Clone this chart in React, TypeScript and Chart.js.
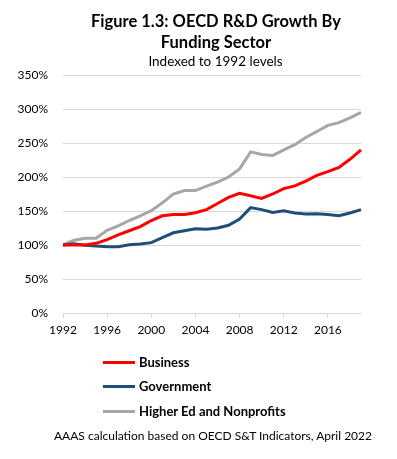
import React, { useEffect, useRef } from "react";
import { Chart, registerables } from "chart.js";

Chart.register(...registerables);

const years = [
  "1992", "1993", "1994", "1995", "1996", "1997", "1998", "1999", "2000", "2001",
  "2002", "2003", "2004", "2005", "2006", "2007", "2008", "2009", "2010", "2011",
  "2012", "2013", "2014", "2015", "2016", "2017", "2018", "2019",
];

const business = [
  100, 100, 100, 102.5, 108, 115, 121, 127, 136, 143,
  145, 145, 147.5, 152, 161, 170, 176, 172.5, 168.5, 175,
  183, 187, 194, 202.5, 208, 214, 226, 240,
];

const government = [
  100, 102, 99.5, 98.5, 97.5, 97.5, 100.5, 101.5, 103.5, 111,
  118, 121, 124, 123, 125, 129, 138, 155, 152, 148,
  150.5, 147, 145.5, 146, 145, 143, 147, 152,
];

const higherEd = [
  100, 107, 110, 110, 121.5, 128, 136, 143, 150.5, 162,
  175, 180, 180, 186.5, 192.5, 200, 212, 237, 233, 231.5,
  240, 247.5, 258, 267, 276, 280, 287, 295,
];

const seriesNames = ["Business", "Government", "Higher Ed and Nonprofits"];
const seriesColors = ["#ff0000", "#1f4e79", "#a6a6a6"];

const FONT = "Lato, 'Open Sans', sans-serif";

export default function App() {
  const ref = useRef<HTMLCanvasElement | null>(null);

  useEffect(() => {
    if (!ref.current) return;
    const chart = new Chart(ref.current, {
      type: "line",
      data: {
        labels: years,
        datasets: [business, government, higherEd].map((d, i) => ({
          label: seriesNames[i],
          data: d,
          borderColor: seriesColors[i],
          backgroundColor: seriesColors[i],
          borderWidth: 3,
          pointRadius: 0,
          tension: 0,
          fill: false,
        })),
      },
      options: {
        animation: false,
        responsive: false,
        devicePixelRatio: 1,
        layout: { padding: { left: 0, right: 36, top: 75, bottom: 116 } },
        plugins: {
          legend: { display: false },
          title: { display: false },
          tooltip: { enabled: false },
        },
        scales: {
          x: {
            type: "category",
            offset: false,
            afterFit: (s: any) => {
              s.height = 30;
            },
            grid: {
              display: true,
              drawOnChartArea: false,
              drawTicks: true,
              tickLength: 5,
              color: (ctx: any) => (ctx.index % 4 === 0 ? "#d9d9d9" : "rgba(0,0,0,0)"),
            },
            border: { display: true, color: "#d9d9d9" },
            ticks: {
              autoSkip: false,
              maxRotation: 0,
              minRotation: 0,
              padding: 5,
              color: "#000",
              font: { family: FONT, size: 12 },
              callback: (_v: any, idx: number) => (idx % 4 === 0 ? years[idx] : ""),
            },
          },
          y: {
            min: 0,
            max: 350,
            afterFit: (s: any) => {
              s.width = 63;
            },
            grid: { color: "#d9d9d9", drawTicks: false, lineWidth: 1 },
            border: { display: false },
            ticks: {
              stepSize: 50,
              padding: 15,
              color: "#000",
              font: { family: FONT, size: 12 },
              callback: (v: any) => v + "%",
            },
          },
        },
      },
    });
    return () => chart.destroy();
  }, []);

  return (
    <div
      style={{
        position: "fixed",
        left: 0,
        top: 0,
        width: 397,
        height: 459,
        background: "#fff",
        fontFamily: FONT,
        color: "#000",
      }}
    >
      <canvas ref={ref} width={397} height={459} style={{ position: "absolute", left: 0, top: 0 }} />
      <div
        style={{
          position: "absolute",
          left: 0,
          width: 432,
          top: 11,
          textAlign: "center",
          fontWeight: 700,
          fontSize: 16.5,
          lineHeight: "21px",
          whiteSpace: "nowrap",
        }}
      >
        <div>Figure 1.3: OECD R&amp;D Growth By</div>
        <div>Funding Sector</div>
      </div>
      <div
        style={{
          position: "absolute",
          left: 0,
          width: 431,
          top: 53,
          textAlign: "center",
          fontSize: 13.5,
          lineHeight: "16px",
          whiteSpace: "nowrap",
        }}
      >
        Indexed to 1992 levels
      </div>
      {seriesNames.map((name, i) => (
        <div key={name} style={{ position: "absolute", left: 0, top: 354 + i * 24.3, height: 17, width: 397 }}>
          <div
            style={{
              position: "absolute",
              left: 103,
              top: 7,
              width: 32,
              height: 3,
              background: seriesColors[i],
            }}
          />
          <div
            style={{
              position: "absolute",
              left: 139,
              top: 0,
              fontSize: 13,
              fontWeight: 700,
              lineHeight: "17px",
              whiteSpace: "nowrap",
            }}
          >
            {name}
          </div>
        </div>
      ))}
      <div
        style={{
          position: "absolute",
          left: 13,
          width: 400,
          top: 428,
          textAlign: "center",
          fontSize: 12,
          lineHeight: "15px",
          whiteSpace: "nowrap",
        }}
      >
        AAAS calculation based on OECD S&amp;T Indicators, April 2022
      </div>
    </div>
  );
}
